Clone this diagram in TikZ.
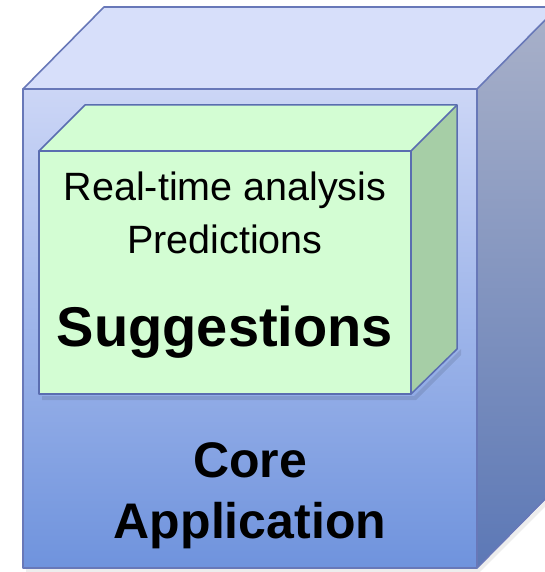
\documentclass[tikz,border=0pt]{standalone}
\usepackage{fontspec}
\setmainfont{Liberation Sans}
\definecolor{edgeblue}{HTML}{6878B8}
\definecolor{outertop}{HTML}{D7DFFA}
\definecolor{frontA}{HTML}{CCD6F6}
\definecolor{frontB}{HTML}{6F93DD}
\definecolor{sideA}{HTML}{A9B1C9}
\definecolor{sideB}{HTML}{5C78B6}
\definecolor{greenface}{HTML}{D3FDD3}
\definecolor{greenside}{HTML}{A6CEA6}
\definecolor{inneredge}{HTML}{5A6DB0}
\tikzset{
  outeredge/.style={draw=edgeblue, line width=1.6pt, line join=round},
  greenedge/.style={draw=inneredge, line width=1.5pt, line join=round},
  lbl/.style={anchor=base, inner sep=0pt, text=black},
}
\begin{document}
\begin{tikzpicture}[x=1pt, y=-1pt]
\useasboundingbox (0,0) rectangle (545,572);
\fill[white] (0,0) rectangle (545,572);
\begin{scope}
\clip (0,0) rectangle (545,572);
% faint shadow along the outer cube's lower edges
\draw[black, opacity=0.07, line width=4pt] (26,570) -- (479,570) -- (561,488);
% outer cube: top face
\fill[outertop] (23,89) -- (104,7) -- (558,7) -- (477,89) -- cycle;
% right face
\shade[top color=sideA, bottom color=sideB] (477,89) -- (558,7) -- (558,486) -- (477,568) -- cycle;
% front face
\shade[top color=frontA, bottom color=frontB] (23,89) rectangle (477,568);
\draw[outeredge] (23,89) -- (104,7) -- (558,7);
\draw[outeredge] (558,7) -- (477,89);
\draw[outeredge] (23,89) rectangle (477,568);
\draw[outeredge] (477,568) -- (558,486);
% inner cube shadow
\fill[black, opacity=0.10] (42,396) -- (414,396) -- (461,349) -- (461,355) -- (416,400) -- (42,400) -- cycle;
% inner cube faces
\fill[greenface] (39,151) -- (85,105) -- (457,105) -- (411,151) -- cycle;
\fill[greenside] (411,151) -- (457,105) -- (457,349) -- (411,394) -- cycle;
\fill[greenface] (39,151) rectangle (411,394);
\draw[greenedge] (39,151) -- (85,105) -- (457,105) -- (457,349) -- (411,394);
\draw[greenedge] (457,105) -- (411,151);
\draw[greenedge] (39,151) rectangle (411,394);
\end{scope}
% texts
\node[lbl, font=\fontsize{39.5}{42}\selectfont] (realtime) at (225,200) {Real-time analysis};
\node[lbl, font=\fontsize{39.5}{42}\selectfont] (predictions) at (225,253) {Predictions};
\node[lbl, font=\fontsize{56}{60}\bfseries\selectfont] (suggestions) at (225,346) {Suggestions};
\node[lbl, font=\fontsize{50}{54}\bfseries\selectfont] (core) at (250,477) {Core};
\node[lbl, font=\fontsize{50}{54}\bfseries\selectfont] (application) at (250,538) {Application};
\end{tikzpicture}
\end{document}
